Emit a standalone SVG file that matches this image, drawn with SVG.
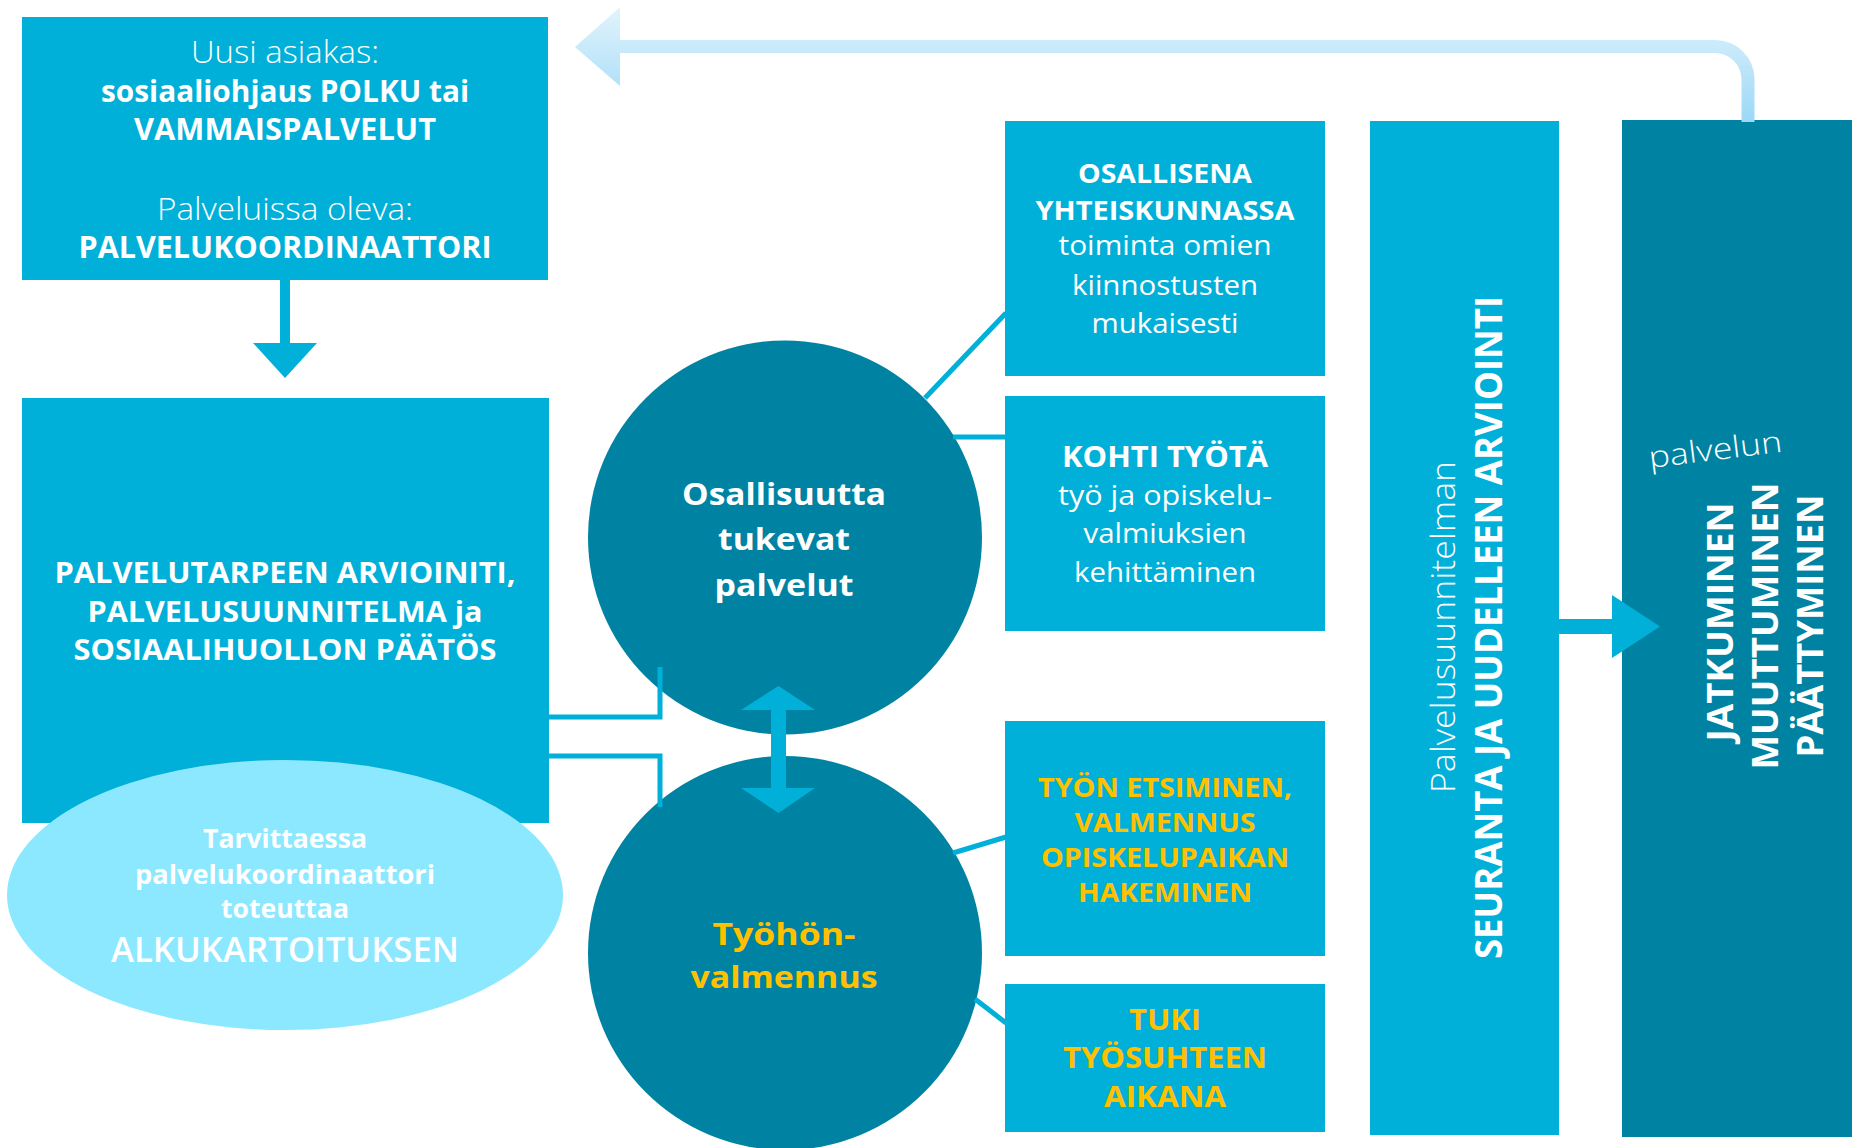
<svg xmlns="http://www.w3.org/2000/svg" width="1852" height="1148" viewBox="0 0 1852 1148">
<style>
.box{fill:#00B0D8}
.dark{fill:#0083A2}
.t{font-family:"Open Sans","Noto Sans","Liberation Sans",sans-serif;fill:#ffffff;text-anchor:middle}
.b{font-weight:700}
.l{font-weight:300}
.r{font-weight:400}
.s{font-weight:600}
.y{fill:#FFC000}
.con{fill:none;stroke:#00B0D8;stroke-width:5}
</style>
<defs>
<linearGradient id="fb" gradientUnits="userSpaceOnUse" x1="0" y1="5" x2="0" y2="122">
<stop offset="0" stop-color="#E3F4FC"/>
<stop offset="1" stop-color="#9CD8F7"/>
</linearGradient>
</defs>
<rect width="1852" height="1148" fill="#ffffff"/>

<g id="node-uusi">
<rect class="box" x="22" y="17" width="526" height="263"/>
<text class="t l" x="285" y="63" font-size="32" textLength="188" lengthAdjust="spacingAndGlyphs">Uusi asiakas:</text>
<text class="t b" x="285" y="102" font-size="30" textLength="368" lengthAdjust="spacingAndGlyphs">sosiaaliohjaus POLKU tai</text>
<text class="t b" x="285" y="140" font-size="30" textLength="302" lengthAdjust="spacingAndGlyphs">VAMMAISPALVELUT</text>
<text class="t l" x="285" y="220" font-size="32" textLength="256" lengthAdjust="spacingAndGlyphs">Palveluissa oleva:</text>
<text class="t b" x="285" y="258" font-size="30" textLength="413" lengthAdjust="spacingAndGlyphs">PALVELUKOORDINAATTORI</text>
</g>

<g id="node-arviointi">
<rect class="box" x="22" y="398" width="527" height="425"/>
<text class="t b" x="285" y="583" font-size="29" textLength="461" lengthAdjust="spacingAndGlyphs">PALVELUTARPEEN ARVIOINITI,</text>
<text class="t b" x="285" y="622" font-size="29" textLength="395" lengthAdjust="spacingAndGlyphs">PALVELUSUUNNITELMA ja</text>
<text class="t b" x="285" y="660" font-size="29" textLength="423" lengthAdjust="spacingAndGlyphs">SOSIAALIHUOLLON PÄÄTÖS</text>
</g>

<g id="node-alkukartoitus">
<ellipse cx="285" cy="895" rx="278" ry="135" fill="#8CE8FF"/>
<text class="t b" x="285" y="848" font-size="27" textLength="164" lengthAdjust="spacingAndGlyphs">Tarvittaessa</text>
<text class="t b" x="285" y="884" font-size="27" textLength="300" lengthAdjust="spacingAndGlyphs">palvelukoordinaattori</text>
<text class="t b" x="285" y="918" font-size="27" textLength="128" lengthAdjust="spacingAndGlyphs">toteuttaa</text>
<text class="t s" x="285" y="962" font-size="35" textLength="348" lengthAdjust="spacingAndGlyphs">ALKUKARTOITUKSEN</text>
</g>

<g id="node-osallisuus">
<circle class="dark" cx="785" cy="537.5" r="197"/>
<text class="t b" x="784" y="505" font-size="31" textLength="204" lengthAdjust="spacingAndGlyphs">Osallisuutta</text>
<text class="t b" x="784" y="550" font-size="31" textLength="132" lengthAdjust="spacingAndGlyphs">tukevat</text>
<text class="t b" x="784" y="596" font-size="31" textLength="139" lengthAdjust="spacingAndGlyphs">palvelut</text>
</g>

<g id="node-tyohonvalmennus">
<circle class="dark" cx="785" cy="953" r="197"/>
<text class="t b y" x="784" y="945" font-size="31" textLength="143" lengthAdjust="spacingAndGlyphs">Työhön-</text>
<text class="t b y" x="784" y="988" font-size="31" textLength="187" lengthAdjust="spacingAndGlyphs">valmennus</text>
</g>

<g id="node-osallisena">
<rect class="box" x="1005" y="121" width="320" height="255"/>
<text class="t b" x="1165" y="183" font-size="27" textLength="174" lengthAdjust="spacingAndGlyphs">OSALLISENA</text>
<text class="t b" x="1165" y="220" font-size="27" textLength="259" lengthAdjust="spacingAndGlyphs">YHTEISKUNNASSA</text>
<text class="t r" x="1165" y="255" font-size="28" textLength="213" lengthAdjust="spacingAndGlyphs">toiminta omien</text>
<text class="t r" x="1165" y="295" font-size="28" textLength="186" lengthAdjust="spacingAndGlyphs">kiinnostusten</text>
<text class="t r" x="1165" y="333" font-size="28" textLength="147" lengthAdjust="spacingAndGlyphs">mukaisesti</text>
</g>

<g id="node-kohti">
<rect class="box" x="1005" y="396" width="320" height="235"/>
<text class="t b" x="1165" y="467" font-size="28" textLength="206" lengthAdjust="spacingAndGlyphs">KOHTI TYÖTÄ</text>
<text class="t r" x="1165" y="505" font-size="28" textLength="214" lengthAdjust="spacingAndGlyphs">työ ja opiskelu-</text>
<text class="t r" x="1165" y="543" font-size="28" textLength="163" lengthAdjust="spacingAndGlyphs">valmiuksien</text>
<text class="t r" x="1165" y="582" font-size="28" textLength="182" lengthAdjust="spacingAndGlyphs">kehittäminen</text>
</g>

<g id="node-tyon-etsiminen">
<rect class="box" x="1005" y="721" width="320" height="235"/>
<text class="t b y" x="1165" y="797" font-size="27" textLength="254" lengthAdjust="spacingAndGlyphs">TYÖN ETSIMINEN,</text>
<text class="t b y" x="1165" y="832" font-size="27" textLength="181" lengthAdjust="spacingAndGlyphs">VALMENNUS</text>
<text class="t b y" x="1165" y="867" font-size="27" textLength="248" lengthAdjust="spacingAndGlyphs">OPISKELUPAIKAN</text>
<text class="t b y" x="1165" y="902" font-size="27" textLength="174" lengthAdjust="spacingAndGlyphs">HAKEMINEN</text>
</g>

<g id="node-tuki">
<rect class="box" x="1005" y="984" width="320" height="148"/>
<text class="t b y" x="1165" y="1030" font-size="29" textLength="72" lengthAdjust="spacingAndGlyphs">TUKI</text>
<text class="t b y" x="1165" y="1068" font-size="29" textLength="204" lengthAdjust="spacingAndGlyphs">TYÖSUHTEEN</text>
<text class="t b y" x="1165" y="1107" font-size="29" textLength="122" lengthAdjust="spacingAndGlyphs">AIKANA</text>
</g>

<g id="node-seuranta">
<rect class="box" x="1370" y="121" width="189" height="1014"/>
<text class="t l" transform="translate(1455 627) rotate(-90)" x="0" y="0" font-size="33" textLength="332" lengthAdjust="spacingAndGlyphs">Palvelusuunnitelman</text>
<text class="t b" transform="translate(1502 627.5) rotate(-90)" x="0" y="0" font-size="38" textLength="663" lengthAdjust="spacingAndGlyphs">SEURANTA JA UUDELLEEN ARVIOINTI</text>
</g>

<g id="node-palvelun">
<rect class="dark" x="1622" y="120" width="230" height="1017"/>
<text class="t l" transform="translate(1650 468) rotate(-7)" x="0" y="0" font-size="30" style="text-anchor:start" textLength="134" lengthAdjust="spacingAndGlyphs">palvelun</text>
<text class="t b" transform="translate(1733 622) rotate(-90)" x="0" y="0" font-size="36" textLength="239" lengthAdjust="spacingAndGlyphs">JATKUMINEN</text>
<text class="t b" transform="translate(1778 626) rotate(-90)" x="0" y="0" font-size="36" textLength="287" lengthAdjust="spacingAndGlyphs">MUUTTUMINEN</text>
<text class="t b" transform="translate(1823 626) rotate(-90)" x="0" y="0" font-size="36" textLength="263" lengthAdjust="spacingAndGlyphs">PÄÄTTYMINEN</text>
</g>

<g id="connectors">
<path d="M615 46.5 H1715 A33 33 0 0 1 1748 79.5 V122" fill="none" stroke="url(#fb)" stroke-width="13"/>
<polygon points="575,47 620,7 620,86" fill="url(#fb)"/>
<rect x="280" y="280" width="10" height="64" fill="#00B0D8"/>
<polygon points="253,343 317,343 285,378" fill="#00B0D8"/>
<polyline class="con" points="549,717 660,717 660,667"/>
<polyline class="con" points="549,756 660,756 660,807"/>
<line class="con" x1="925" y1="398" x2="1006" y2="313"/>
<line class="con" x1="953" y1="437" x2="1006" y2="437"/>
<line class="con" x1="953" y1="853" x2="1006" y2="837"/>
<line class="con" x1="975" y1="999" x2="1006" y2="1023"/>
<rect x="1558" y="619" width="56" height="15" fill="#00B0D8"/>
<polygon points="1612,595 1660,626.5 1612,658" fill="#00B0D8"/>
<rect x="771" y="708" width="15" height="82" fill="#00B0D8"/>
<polygon points="778.5,686 815,710 741,710" fill="#00B0D8"/>
<polygon points="741,788 815,788 778.5,813" fill="#00B0D8"/>
</g>
</svg>
